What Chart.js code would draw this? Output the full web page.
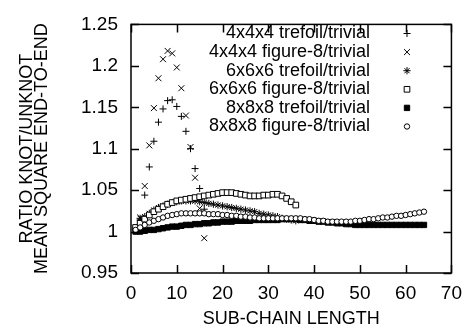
<!DOCTYPE html>
<html>
<head>
<meta charset="utf-8">
<script src="https://cdn.jsdelivr.net/npm/chart.js@4/dist/chart.umd.min.js"></script>
<style>
  html, body { margin: 0; padding: 0; background: #fff; }
  canvas { display: block; }
</style>
</head>
<body>
<canvas id="chart" width="471" height="328"></canvas>
<script>
// Ratio knot/unknot mean square end-to-end vs sub-chain length

const seriesLabels = [
    '4x4x4 trefoil/trivial',
    '4x4x4 figure-8/trivial',
    '6x6x6 trefoil/trivial',
    '6x6x6 figure-8/trivial',
    '8x8x8 trefoil/trivial',
    '8x8x8 figure-8/trivial'
];

// values at sub-chain length 1, 2, 3, ...
const tre4 = [1.002, 1.014, 1.044, 1.078, 1.109, 1.132, 1.148, 1.158, 1.159, 1.151, 1.139, 1.121, 1.100, 1.076, 1.052, 1.027];
const fig4 = [1.002, 1.017, 1.055, 1.104, 1.149, 1.185, 1.208, 1.218, 1.215, 1.198, 1.173, 1.140, 1.102, 1.065, 1.028, 0.992];

const tre6 = [1.003, 1.016, 1.018, 1.022, 1.026, 1.029, 1.031, 1.033, 1.035, 1.036, 1.037, 1.037, 1.037, 1.037, 1.036, 1.035,
              1.034, 1.033, 1.032, 1.031, 1.030, 1.029, 1.028, 1.027, 1.026, 1.025, 1.024, 1.022, 1.021, 1.020, 1.019, 1.018,
              1.016, 1.015, 1.014, 1.013];
const fig6 = [1.005, 1.010, 1.015, 1.020, 1.024, 1.027, 1.030, 1.033, 1.035, 1.037, 1.038, 1.039, 1.040, 1.041, 1.042, 1.043,
              1.044, 1.045, 1.046, 1.047, 1.047, 1.047, 1.046, 1.045, 1.044, 1.043, 1.043, 1.043, 1.044, 1.044, 1.045, 1.045,
              1.043, 1.040, 1.036, 1.032];

const tre8 = [1.000, 1.000, 1.001, 1.002, 1.002, 1.003, 1.004, 1.005, 1.006, 1.006, 1.007, 1.008, 1.008, 1.009, 1.009, 1.010,
              1.010, 1.011, 1.011, 1.012, 1.012, 1.012, 1.013, 1.013, 1.013, 1.013, 1.014, 1.014, 1.014, 1.014, 1.014, 1.014,
              1.015, 1.015, 1.015, 1.015, 1.014, 1.014, 1.013, 1.013, 1.012, 1.012, 1.011, 1.011, 1.010, 1.010, 1.009, 1.009,
              1.008, 1.008, 1.008, 1.008, 1.008, 1.008, 1.008, 1.008, 1.008, 1.008, 1.008, 1.008, 1.008, 1.008, 1.008, 1.008];
const fig8 = [1.002, 1.005, 1.008, 1.011, 1.013, 1.015, 1.017, 1.019, 1.020, 1.021, 1.022, 1.022, 1.022, 1.022, 1.022, 1.022,
              1.021, 1.021, 1.021, 1.020, 1.020, 1.019, 1.019, 1.018, 1.018, 1.017, 1.017, 1.016, 1.016, 1.016, 1.016, 1.016,
              1.016, 1.016, 1.016, 1.016, 1.016, 1.015, 1.015, 1.014, 1.013, 1.013, 1.012, 1.012, 1.012, 1.012, 1.012, 1.012,
              1.013, 1.013, 1.014, 1.015, 1.015, 1.016, 1.017, 1.017, 1.018, 1.019, 1.019, 1.020, 1.021, 1.022, 1.023, 1.024];

const xTicks = [0, 10, 20, 30, 40, 50, 60, 70];
const yTicks = [0.95, 1, 1.05, 1.1, 1.15, 1.2, 1.25];

const toPts = arr => arr.map((v, i) => ({ x: i + 1, y: v }));

const FONT = 'Liberation Sans, Arial, Helvetica, sans-serif';

// ── Frame + inward ticks on all four sides, and the key ──────────────
const framePlugin = {
    id: 'frame',
    afterDraw(chart) {
        const { ctx, chartArea: a, scales: { x, y } } = chart;
        const tl = 8;
        ctx.save();
        ctx.strokeStyle = '#000';
        ctx.lineWidth = 1.5;
        ctx.beginPath();
        xTicks.forEach(v => {
            const px = Math.round(x.getPixelForValue(v)) + 0.5;
            ctx.moveTo(px, a.bottom); ctx.lineTo(px, a.bottom - tl);
            ctx.moveTo(px, a.top);    ctx.lineTo(px, a.top + tl);
        });
        yTicks.forEach(v => {
            const py = Math.round(y.getPixelForValue(v)) + 0.5;
            ctx.moveTo(a.left, py);  ctx.lineTo(a.left + tl, py);
            ctx.moveTo(a.right, py); ctx.lineTo(a.right - tl, py);
        });
        ctx.stroke();
        ctx.strokeRect(a.left, a.top, a.right - a.left, a.bottom - a.top);

        ctx.font = '18px ' + FONT;
        ctx.textAlign = 'right';
        ctx.textBaseline = 'middle';
        chart.data.datasets.forEach((ds, i) => {
            const ty = 33.5 + i * 18.6;
            ctx.fillStyle = '#000';
            ctx.fillText(ds.label, 370, ty);
            ctx.lineWidth = ds.borderWidth;
            ctx.strokeStyle = ds.borderColor;
            ctx.fillStyle = ds.backgroundColor;
            Chart.helpers.drawPoint(ctx, {
                pointStyle: ds.pointStyle, radius: ds.pointRadius, rotation: 0, borderWidth: ds.borderWidth
            }, 407, ty);
        });
        ctx.restore();
    }
};

const styles = [
    { pointStyle: 'cross',    pointRadius: 3.5, backgroundColor: 'rgba(0,0,0,0)' },
    { pointStyle: 'crossRot', pointRadius: 4.2, backgroundColor: 'rgba(0,0,0,0)' },
    { pointStyle: 'star',     pointRadius: 3.6, backgroundColor: 'rgba(0,0,0,0)' },
    { pointStyle: 'rect',     pointRadius: 4,   backgroundColor: '#fff' },
    { pointStyle: 'rect',     pointRadius: 3.8, backgroundColor: '#000' },
    { pointStyle: 'circle',   pointRadius: 2.7, backgroundColor: '#fff' }
];
const values = [tre4, fig4, tre6, fig6, tre8, fig8];
const datasets = values.map((arr, i) => ({
    label: seriesLabels[i],
    data: toPts(arr),
    showLine: false,
    borderColor: '#000',
    borderWidth: 1,
    pointHoverRadius: 0,
    order: 6 - i,
    ...styles[i]
}));

new Chart(document.getElementById('chart'), {
    type: 'scatter',
    data: { datasets },
    options: {
        responsive: false,
        animation: false,
        events: [],
        layout: { padding: { top: 16, right: 17, left: 0, bottom: 0 } },
        plugins: { legend: { display: false }, tooltip: { enabled: false } },
        scales: {
            x: {
                type: 'linear', min: 0, max: 70,
                afterBuildTicks: s => { s.ticks = xTicks.map(v => ({ value: v })); },
                afterFit: s => { s.height = 55; },
                grid: { display: false, drawTicks: false },
                border: { display: false },
                ticks: { color: '#000', padding: 9, font: { family: FONT, size: 19 } },
                title: {
                    display: true, text: 'SUB-CHAIN LENGTH', color: '#000',
                    padding: { top: 0, bottom: 0 },
                    font: { family: FONT, size: 18, lineHeight: 1 }
                }
            },
            y: {
                type: 'linear', min: 0.95, max: 1.25,
                afterBuildTicks: s => { s.ticks = yTicks.map(v => ({ value: v })); },
                afterFit: s => { s.width = 131; },
                grid: { display: false, drawTicks: false },
                border: { display: false },
                ticks: {
                    color: '#000', padding: 13, font: { family: FONT, size: 19 },
                    callback: v => String(+v.toFixed(2))
                },
                title: {
                    display: true, text: ['RATIO KNOT/UNKNOT', 'MEAN SQUARE END-TO-END'], color: '#000',
                    padding: { top: 19, bottom: 0 },
                    font: { family: FONT, size: 18, lineHeight: 0.87 }
                }
            }
        }
    },
    plugins: [framePlugin]
});
</script>
</body>
</html>
